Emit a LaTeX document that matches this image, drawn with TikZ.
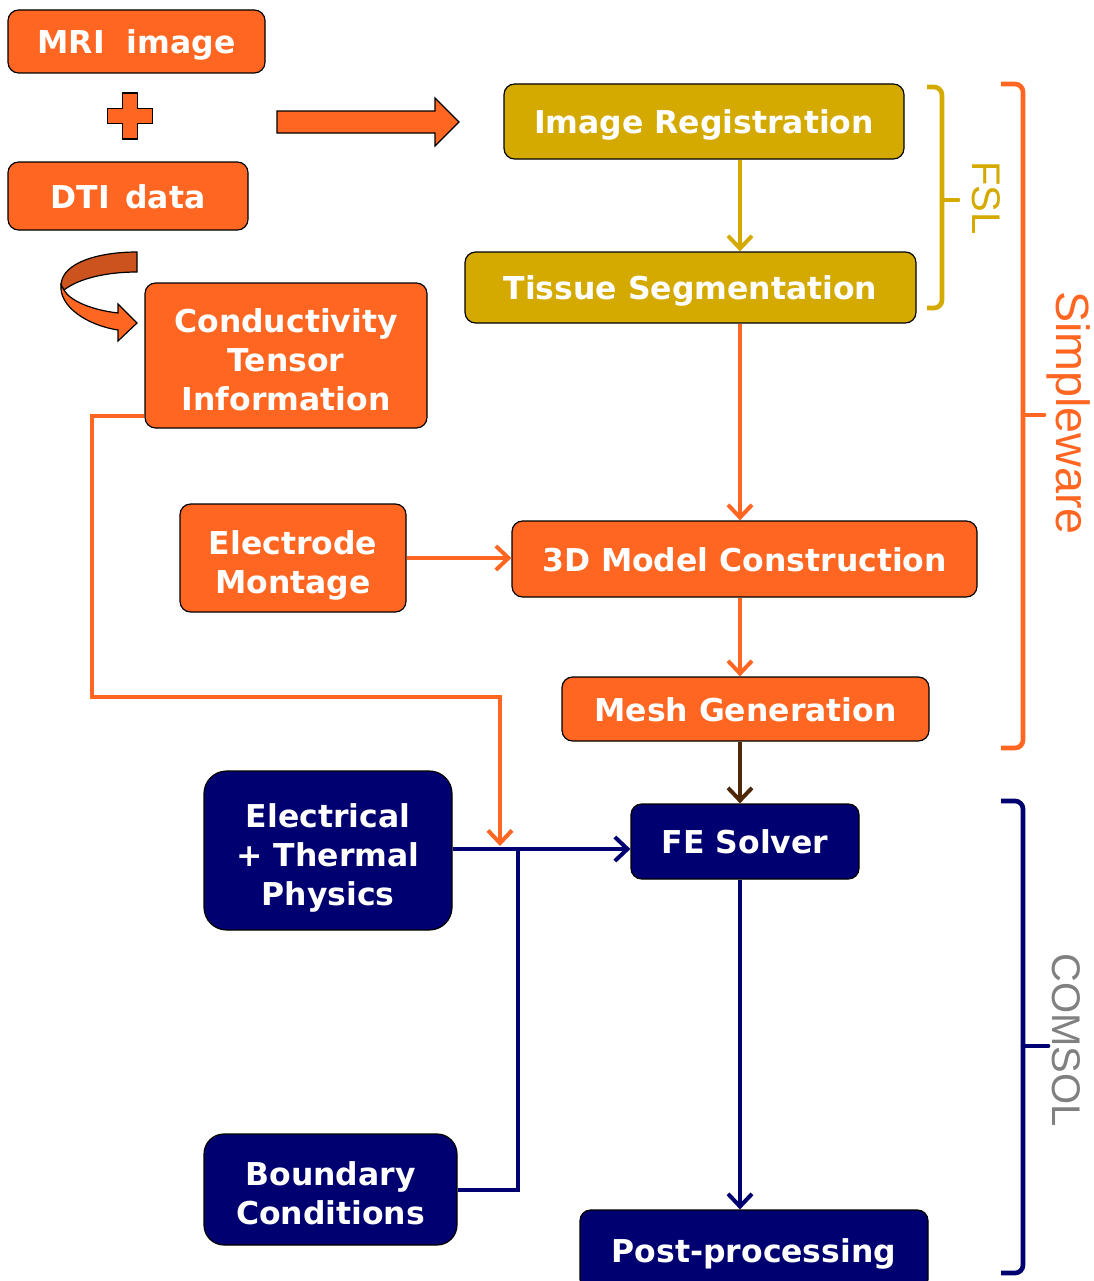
\documentclass[tikz,border=0pt]{standalone}
\usepackage{fontspec}
\setmainfont{DejaVu Sans}
\newfontfamily\tagfont{Liberation Sans}
\usepackage{tikz}
\usetikzlibrary{arrows.meta,calc}

\definecolor{orng}{RGB}{255,102,34}
\definecolor{dorng}{RGB}{204,82,30}
\definecolor{ylw}{RGB}{212,170,0}
\definecolor{nvy}{RGB}{0,0,112}
\definecolor{brwn}{RGB}{77,40,10}
\definecolor{taggray}{RGB}{128,128,128}

\newlength\px
\setlength\px{0.75pt}
\newcommand\boxstrut{\rule[-0.21em]{0pt}{1.21em}}
\newcommand\topstrut{\rule{0pt}{1.21em}}

\tikzset{
	box/.style={draw=black, line width=0.9pt, rounded corners=8pt, text=white, align=center, inner sep=0pt, font=\bfseries\fontsize{23.6}{29.25}\selectfont, execute at begin node=\boxstrut, execute at end node=\boxstrut},
	multi/.style={execute at begin node={}},
	obox/.style={box, fill=orng},
	ybox/.style={box, fill=ylw},
	nbox/.style={box, fill=nvy},
	link/.style={line width=3pt, -{Straight Barb[length=9.5pt,width=18pt]}},
	brace/.style={line width=3.5pt, rounded corners=6pt},
	tag/.style={rotate=-90, font=\tagfont\fontsize{30}{36}\selectfont}
}

\begin{document}
\begin{tikzpicture}[x=0.75pt,y=-0.75pt]
	\useasboundingbox (0,0) rectangle (1094,1281);
	\coordinate (axis) at (740,0);
	% input data
	\node[obox, minimum width=257\px, minimum height=63\px] (mri) at (136.5,41.5) {MRI\ \ image};
	\node[obox, minimum width=240\px, minimum height=68\px] (dti) at (128,196) {DTI\hspace{0.15em} data};
	\draw[fill=orng, line width=0.9pt] (122.5,93) -- (137.5,93) -- (137.5,108.5) -- (152.5,108.5) -- (152.5,123.5) -- (137.5,123.5) -- (137.5,139) -- (122.5,139) -- (122.5,123.5) -- (107.5,123.5) -- (107.5,108.5) -- (122.5,108.5) -- cycle;
	\draw[fill=orng, line width=0.9pt] (277,111) -- (435,111) -- (435,98) -- (459,122) -- (435,146) -- (435,133) -- (277,133) -- cycle;
	\draw[fill=dorng, line width=0.9pt] (137,252) .. controls (100,252) and (62,262) .. (61,285) -- (64,290) .. controls (78,279) and (105,272) .. (137,272) -- cycle;
	\draw[fill=orng, line width=0.9pt] (61,285) .. controls (59,306) and (86,325) .. (118,330) -- (118,341) -- (137,323) -- (118,304) -- (118,313) .. controls (92,310) and (70,301) .. (64,290) -- cycle;
	% processing chain
	\node[ybox, minimum width=400\px, minimum height=75\px] (imgreg) at (704,121.5) {Image Registration};
	\node[ybox, minimum width=451\px, minimum height=71\px] (tissue) at (690.5,287.5) {Tissue Segmentation};
	\node[obox, multi, minimum width=282\px, minimum height=145\px] (cond) at (286,355.5) {\topstrut Conductivity\\Tensor\\Information};
	\node[obox, multi, minimum width=226\px, minimum height=108\px] (elec) at (293,558) {\topstrut Electrode\\Montage};
	\node[obox, minimum width=465\px, minimum height=76\px] (model) at (744.5,559) {3D Model Construction};
	\node[obox, minimum width=367\px, minimum height=64\px] (mesh) at (745.5,709) {Mesh Generation};
	\node[nbox, minimum width=228\px, minimum height=75\px] (fe) at (745,841.5) {FE Solver};
	\node[nbox, multi, rounded corners=17pt, minimum width=248\px, minimum height=159\px] (phys) at (328,850.5) {\topstrut Electrical\\+ Thermal\\Physics};
	\node[nbox, multi, rounded corners=15pt, minimum width=253\px, minimum height=111\px] (bc) at (330.5,1189.5) {\topstrut Boundary\\Conditions};
	\node[nbox, minimum width=348\px, minimum height=80\px] (post) at (754,1250) {Post-processing};
	% connectors
	\coordinate (bend) at (92,697);
	\coordinate (tee) at (500,846);
	\coordinate (bcjoin) at (518,849);
	\draw[link, ylw] (imgreg.south -| axis) -- (tissue.north -| axis);
	\draw[link, orng] (tissue.south -| axis) -- (model.north -| axis);
	\draw[link, orng] (elec.east) -- (model.west |- elec.east);
	\draw[link, orng] (model.south -| axis) -- (mesh.north -| axis);
	\draw[link, brwn] (mesh.south -| axis) -- (fe.north -| axis);
	\draw[link, nvy] (fe.south -| axis) -- (post.north -| axis);
	\draw[link, nvy] (phys.east |- bcjoin) -- (fe.west |- bcjoin);
	\draw[line width=3pt, nvy] (bc.east) -| (bcjoin);
	\draw[link, orng] ($(cond.south west)+(0,-13)$) -| (bend) -| (tee);
	% software brackets
	\draw[brace, ylw] (927,87) -- (942,87) -- (942,308) -- (927,308);
	\draw[line width=3.5pt, line cap=round, ylw] (942,200) -- (958,200);
	\draw[brace, orng] (1001,84) -- (1023,84) -- (1023,748) -- (1001,748);
	\draw[line width=3.5pt, line cap=round, orng] (1023,415) -- (1044,415);
	\draw[brace, nvy] (1001,801) -- (1023,801) -- (1023,1273) -- (1001,1273);
	\draw[line width=3.5pt, line cap=round, nvy] (1023,1046) -- (1048,1046);
	\node[tag, ylw] (fsl) at (986,198) {FSL};
	\node[tag, orng, font=\tagfont\fontsize{35}{40}\selectfont] (sw) at (1069,413) {Simpleware};
	\node[tag, taggray] (comsol) at (1066,1040) {COMSOL};
\end{tikzpicture}
\end{document}
